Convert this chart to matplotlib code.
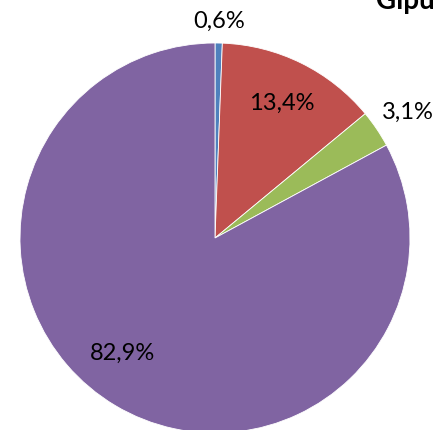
import numpy as np
import matplotlib
matplotlib.use("Agg")
import matplotlib.pyplot as plt

plt.rcParams['font.family'] = ['Lato', 'DejaVu Sans']

# data
labels = ["0,6%", "13,4%", "3,1%", "82,9%"]
shares = [0.6, 13.4, 3.1, 82.9]
colors = ["#4F81BD", "#C0504D", "#9BBB59", "#8064A2"]
title = "Gipu"   # the reference only shows this much of the title

# where each percentage sits (radius fraction, angle shift in degrees)
lab_dist = [1.11, 0.77, 1.18, 0.76]
lab_shift = [0, 0, -1, -8]

fig = plt.figure(figsize=(4.35, 4.30), dpi=100)
ax = fig.add_axes([0, 0, 1, 1])

cx, cy, r = 215, 430 - 238, 195
wedges, _ = ax.pie(shares, colors=colors, startangle=90, counterclock=False,
                   center=(cx, cy), radius=r, frame=True,
                   wedgeprops=dict(linewidth=0.6, edgecolor="white"))

for w, lab, d, s in zip(wedges, labels, lab_dist, lab_shift):
    ang = np.deg2rad((w.theta1 + w.theta2) / 2 + s)
    ax.text(cx + d * r * np.cos(ang), cy + d * r * np.sin(ang), lab,
            ha="center", va="center", fontsize=17, color="black")

ax.text(376, 430 - 9, title, ha="left", va="baseline", fontsize=20,
        fontweight="bold", color="black")

ax.set_xlim(0, 435)
ax.set_ylim(0, 430)
ax.set_aspect("equal")
ax.axis("off")

fig.savefig("out.png", dpi=100)
